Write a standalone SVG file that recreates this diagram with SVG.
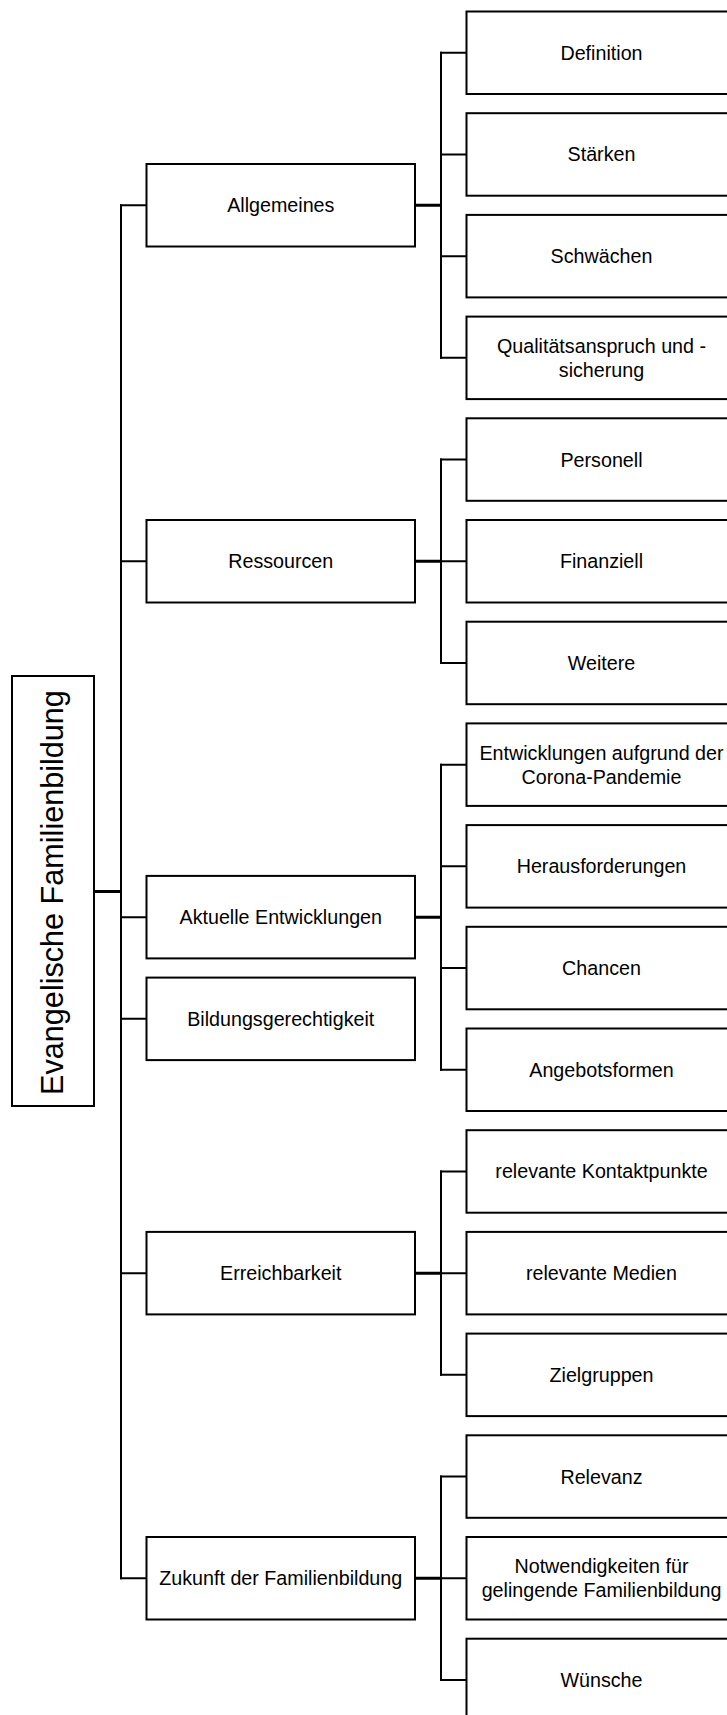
<svg xmlns="http://www.w3.org/2000/svg" width="727" height="1715" viewBox="0 0 727 1715">
  <style>
    .box { fill: #ffffff; stroke: #000000; stroke-width: 2; }
    .lbl { font-family: "Liberation Sans", Arial, sans-serif; font-size: 19.7px; fill: #000000; text-anchor: middle; }
    .root { font-family: "Liberation Sans", Arial, sans-serif; font-size: 30.6px; fill: #000000; text-anchor: middle; }
    .ln { fill: none; stroke: #000000; stroke-width: 2; stroke-linecap: square; }
    .lnb { fill: none; stroke: #000000; stroke-width: 3; }
  </style>
  <rect width="727" height="1715" fill="#ffffff"/>

  <g id="connectors">
    <path class="lnb" d="M94 891.5 H121"/>
    <path class="ln" d="M121 205.25 V1578.25"/>
    <path class="ln" d="M121 205.25 H146.5 M121 561.25 H146.5 M121 917.15 H146.5 M121 1018.85 H146.5 M121 1273.15 H146.5 M121 1578.25 H146.5"/>
    <path class="lnb" d="M415 205.25 H441 M415 561.25 H441 M415 917.15 H441 M415 1273.15 H441 M415 1578.25 H441"/>
    <path class="ln" d="M441 52.75 V357.85 M441 459.55 V662.95 M441 764.65 V1069.75 M441 1171.45 V1374.85 M441 1476.55 V1679.95"/>
    <path class="ln" d="M441 52.75 H466.5 M441 154.45 H466.5 M441 256.15 H466.5 M441 357.85 H466.5 M441 459.55 H466.5 M441 561.25 H466.5 M441 662.95 H466.5 M441 764.65 H466.5 M441 866.35 H466.5 M441 968.05 H466.5 M441 1069.75 H466.5 M441 1171.45 H466.5 M441 1273.15 H466.5 M441 1374.85 H466.5 M441 1476.55 H466.5 M441 1578.25 H466.5 M441 1679.95 H466.5"/>
  </g>

  <g id="root">
    <rect class="box" x="12" y="676" width="82" height="430"/>
    <text class="root" transform="translate(63.3 892.5) rotate(-90)">Evangelische Familienbildung</text>
  </g>

  <g id="allgemeines">
    <rect class="box" x="146.5" y="164" width="268.5" height="82.5"/>
    <text class="lbl" x="280.75" y="212.25">Allgemeines</text>
  </g>
  <g id="ressourcen">
    <rect class="box" x="146.5" y="520" width="268.5" height="82.5"/>
    <text class="lbl" x="280.75" y="568.25">Ressourcen</text>
  </g>
  <g id="aktuelle-entwicklungen">
    <rect class="box" x="146.5" y="875.9" width="268.5" height="82.5"/>
    <text class="lbl" x="280.75" y="924.15">Aktuelle Entwicklungen</text>
  </g>
  <g id="bildungsgerechtigkeit">
    <rect class="box" x="146.5" y="977.6" width="268.5" height="82.5"/>
    <text class="lbl" x="280.75" y="1025.85">Bildungsgerechtigkeit</text>
  </g>
  <g id="erreichbarkeit">
    <rect class="box" x="146.5" y="1231.9" width="268.5" height="82.5"/>
    <text class="lbl" x="280.75" y="1280.15">Erreichbarkeit</text>
  </g>
  <g id="zukunft">
    <rect class="box" x="146.5" y="1537" width="268.5" height="82.5"/>
    <text class="lbl" x="280.75" y="1585.25">Zukunft der Familienbildung</text>
  </g>

  <g id="definition">
    <rect class="box" x="466.5" y="11.5" width="270" height="82.5"/>
    <text class="lbl" x="601.5" y="59.75">Definition</text>
  </g>
  <g id="staerken">
    <rect class="box" x="466.5" y="113.2" width="270" height="82.5"/>
    <text class="lbl" x="601.5" y="161.45">Stärken</text>
  </g>
  <g id="schwaechen">
    <rect class="box" x="466.5" y="214.9" width="270" height="82.5"/>
    <text class="lbl" x="601.5" y="263.15">Schwächen</text>
  </g>
  <g id="qualitaet">
    <rect class="box" x="466.5" y="316.6" width="270" height="82.5"/>
    <text class="lbl" x="601.5" y="352.85">Qualitätsanspruch und -</text>
    <text class="lbl" x="601.5" y="376.85">sicherung</text>
  </g>
  <g id="personell">
    <rect class="box" x="466.5" y="418.3" width="270" height="82.5"/>
    <text class="lbl" x="601.5" y="466.55">Personell</text>
  </g>
  <g id="finanziell">
    <rect class="box" x="466.5" y="520" width="270" height="82.5"/>
    <text class="lbl" x="601.5" y="568.25">Finanziell</text>
  </g>
  <g id="weitere">
    <rect class="box" x="466.5" y="621.7" width="270" height="82.5"/>
    <text class="lbl" x="601.5" y="669.95">Weitere</text>
  </g>
  <g id="corona">
    <rect class="box" x="466.5" y="723.4" width="270" height="82.5"/>
    <text class="lbl" x="601.5" y="759.65">Entwicklungen aufgrund der</text>
    <text class="lbl" x="601.5" y="783.65">Corona-Pandemie</text>
  </g>
  <g id="herausforderungen">
    <rect class="box" x="466.5" y="825.1" width="270" height="82.5"/>
    <text class="lbl" x="601.5" y="873.35">Herausforderungen</text>
  </g>
  <g id="chancen">
    <rect class="box" x="466.5" y="926.8" width="270" height="82.5"/>
    <text class="lbl" x="601.5" y="975.05">Chancen</text>
  </g>
  <g id="angebotsformen">
    <rect class="box" x="466.5" y="1028.5" width="270" height="82.5"/>
    <text class="lbl" x="601.5" y="1076.75">Angebotsformen</text>
  </g>
  <g id="kontaktpunkte">
    <rect class="box" x="466.5" y="1130.2" width="270" height="82.5"/>
    <text class="lbl" x="601.5" y="1178.45">relevante Kontaktpunkte</text>
  </g>
  <g id="medien">
    <rect class="box" x="466.5" y="1231.9" width="270" height="82.5"/>
    <text class="lbl" x="601.5" y="1280.15">relevante Medien</text>
  </g>
  <g id="zielgruppen">
    <rect class="box" x="466.5" y="1333.6" width="270" height="82.5"/>
    <text class="lbl" x="601.5" y="1381.85">Zielgruppen</text>
  </g>
  <g id="relevanz">
    <rect class="box" x="466.5" y="1435.3" width="270" height="82.5"/>
    <text class="lbl" x="601.5" y="1483.55">Relevanz</text>
  </g>
  <g id="notwendigkeiten">
    <rect class="box" x="466.5" y="1537" width="270" height="82.5"/>
    <text class="lbl" x="601.5" y="1573.25">Notwendigkeiten für</text>
    <text class="lbl" x="601.5" y="1597.25">gelingende Familienbildung</text>
  </g>
  <g id="wuensche">
    <rect class="box" x="466.5" y="1638.7" width="270" height="82.5"/>
    <text class="lbl" x="601.5" y="1686.95">Wünsche</text>
  </g>
</svg>
